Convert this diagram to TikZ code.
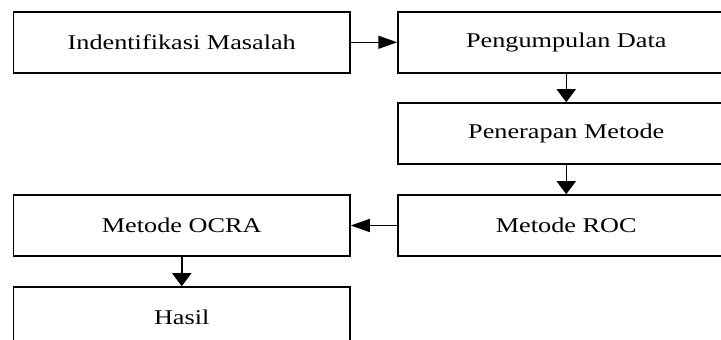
\documentclass[tikz,border=0pt]{standalone}
\usepackage{fontspec}
\newfontfamily\stagefont{Liberation Serif}[FakeStretch=1.25]
\usetikzlibrary{arrows.meta}

\begin{document}
\begin{tikzpicture}[x=1pt, y=1pt,
    stage/.style={draw, line width=1.5pt, minimum width=336.5pt, minimum height=61pt,
      inner sep=0pt, font=\stagefont\fontsize{21}{24}\selectfont},
    toright/.style={line width=1.5pt, -{Triangle[length=19pt, width=13pt]}},
    todown/.style={line width=1.5pt, -{Triangle[length=13pt, width=19pt]}}]
      \useasboundingbox (0, 0) rectangle (721, 340);
      \clip (0, 0) rectangle (721, 340);
      \node[stage] (identifikasi) at (181.75, 297.7) {Indentifikasi Masalah};
      \node[stage] (pengumpulan)  at (566.25, 297.7) {Pengumpulan Data};
      \node[stage] (penerapan)    at (566.25, 206.5) {Penerapan Metode};
      \node[stage] (roc)          at (566.25, 114.5) {Metode ROC};
      \node[stage] (ocra)         at (181.75, 114.5) {Metode OCRA};
      \node[stage] (hasil)        at (181.75, 22.5)  {Hasil};
      \draw[toright] (identifikasi) -- (pengumpulan);
      \draw[todown]  (pengumpulan) -- (penerapan);
      \draw[todown]  (penerapan) -- (roc);
      \draw[toright] (roc) -- (ocra);
      \draw[todown]  (ocra) -- (hasil);
    \end{tikzpicture}
\end{document}
